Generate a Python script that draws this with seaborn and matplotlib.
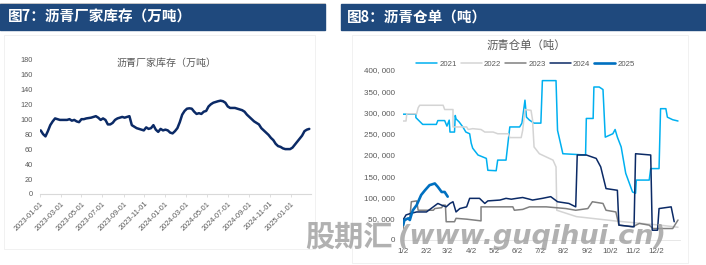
import numpy as np
import pandas as pd
import matplotlib
matplotlib.use("Agg")
import matplotlib.pyplot as plt
import matplotlib.dates as mdates
from matplotlib.patches import Rectangle
from matplotlib.ticker import FuncFormatter, MultipleLocator
import seaborn as sns

# ---------------- data ----------------
# Figure 7: asphalt plant inventory (10k tonnes), weekly
inv_start = "2023-01-02"
inv_values = [85, 80, 77, 84, 92, 97, 101, 100, 99, 99, 99, 99, 100, 98, 99, 97, 96, 100, 100, 101,
              101.5, 102, 103, 104, 102, 99, 101, 99, 93, 93, 95, 99, 101, 102, 103, 102, 103, 104, 92, 90,
              88, 87, 86, 85, 89, 87, 88, 92, 86, 83, 87, 85, 86, 85, 82, 81, 84, 88, 96, 106,
              111, 114, 114.5, 114, 110, 107, 108, 107, 110, 111, 117, 120, 122, 123, 124, 124.7, 124, 122, 117, 115,
              115, 115, 114, 113, 112, 110, 106, 103, 100, 97, 95, 93, 88, 85, 82, 79, 75, 72, 67, 64,
              63, 61, 60, 60, 60, 62, 66, 70, 74, 78, 84, 86, 87]
inv_ticks = ["2023-01-01", "2023-03-01", "2023-05-01", "2023-07-01", "2023-09-01", "2023-11-01",
             "2024-01-01", "2024-03-01", "2024-05-01", "2024-07-01", "2024-09-01", "2024-11-01",
             "2025-01-01"]

# Figure 8: asphalt warehouse receipts (tonnes), by day of year
days_2021 = [1, 18, 18, 27, 45, 47, 56, 59, 62, 63, 69, 70, 71, 75, 80, 84, 89, 91, 93, 100,
             111, 113, 124, 126, 137, 140, 142, 155, 158, 162, 164, 168, 174, 183, 185, 203, 205, 210, 212, 242,
             243, 252, 253, 260, 265, 268, 278, 281, 284, 289, 295, 304, 308, 309, 326, 328, 339, 341, 348, 350,
             357, 364]
vals_2021 = [296, 296, 288, 272, 272, 281, 281, 268, 282, 254, 254, 293, 285, 278, 266, 254, 250, 228, 216, 200,
             192, 164, 163, 188, 188, 235, 266, 266, 275, 329, 289, 282, 275, 275, 375, 375, 258, 219, 203, 200,
             286, 286, 360, 360, 354, 242, 250, 260, 242, 219, 157, 113, 110, 141, 141, 168, 168, 309, 309, 289,
             283, 280]
days_2022 = [1, 5, 6, 19, 21, 23, 54, 56, 67, 67, 85, 87, 93, 104, 109, 120, 126, 140, 142, 157,
             159, 162, 170, 172, 174, 181, 199, 203, 204, 230, 250, 280, 310, 340, 364]
vals_2022 = [280, 280, 297, 297, 311, 317, 317, 307, 307, 266, 266, 260, 262, 260, 254, 254, 250, 250, 241, 241,
             258, 307, 305, 283, 219, 203, 188, 172, 70, 55, 51, 45, 40, 35, 30]
days_2023 = [1, 3, 10, 12, 19, 21, 41, 43, 52, 54, 57, 58, 69, 71, 85, 104, 104, 146, 148, 159,
             168, 173, 190, 216, 229, 245, 251, 265, 269, 282, 286, 304, 313, 326, 331, 357, 364]
vals_2023 = [27, 47, 51, 90, 92, 70, 70, 74, 76, 82, 82, 43, 43, 51, 49, 45, 78, 78, 70, 72,
             78, 78, 78, 74, 70, 74, 90, 86, 70, 66, 35, 31, 39, 35, 27, 27, 47]
days_2024 = [1, 5, 12, 19, 32, 38, 47, 52, 58, 63, 67, 71, 76, 85, 89, 102, 109, 113, 129, 137,
             144, 151, 159, 168, 172, 185, 196, 205, 220, 229, 231, 243, 256, 262, 269, 284, 286, 306, 308, 328,
             330, 337, 339, 355, 359]
vals_2024 = [47, 59, 63, 66, 66, 74, 86, 82, 78, 86, 90, 66, 74, 78, 98, 98, 86, 92, 94, 98,
             96, 98, 100, 96, 94, 98, 102, 90, 86, 78, 200, 200, 192, 172, 121, 117, 35, 31, 203, 200,
             23, 23, 74, 78, 43]
days_2025 = [1, 3, 8, 10, 12, 14, 19, 23, 25, 30, 36, 43, 47, 52, 56, 60]
vals_2025 = [35, 47, 51, 47, 59, 70, 82, 98, 106, 117, 129, 133, 125, 113, 113, 102]

month_tick_days = [1, 32, 60, 91, 121, 152, 182, 213, 244, 274, 305, 335]
month_tick_labels = ["1/2", "2/2", "3/2", "4/2", "5/2", "6/2", "7/2", "8/2", "9/2", "10/2", "11/2", "12/2"]

series_years = ["2021", "2022", "2023", "2024", "2025"]
series_days = [days_2021, days_2022, days_2023, days_2024, days_2025]
series_vals = [vals_2021, vals_2022, vals_2023, vals_2024, vals_2025]
series_colors = ["#00B0F0", "#D4D4D4", "#808080", "#0B2A66", "#0070C0"]
series_widths = [1.1, 1.1, 1.1, 1.1, 1.9]

# ---------------- style ----------------
sns.set_theme(style="white")
plt.rcParams["font.family"] = ["Noto Sans CJK SC", "DejaVu Sans"]
TICK_FONT = ["Liberation Sans", "DejaVu Sans"]
GREY = "#595959"

W, H = 706, 265
fig = plt.figure(figsize=(W / 100, H / 100), dpi=100)


def fx(x):
    return x / W


def fy(y):
    return 1 - y / H


# header bars
fig.patches.append(Rectangle((0, fy(30)), fx(325), 26 / H, transform=fig.transFigure,
                             color="#1F497D", zorder=0))
fig.patches.append(Rectangle((fx(341), fy(30)), fx(W - 341), 26 / H, transform=fig.transFigure,
                             color="#1F497D", zorder=0))
fig.lines.append(plt.Line2D([0, fx(325)], [fy(2.5), fy(2.5)], transform=fig.transFigure,
                            color="#BFBFBF", lw=0.6))
fig.text(fx(8), fy(17), "图7：沥青厂家库存（万吨）", color="white", fontsize=10.5,
         weight="bold", va="center", ha="left")
fig.text(fx(347), fy(17), "图8：沥青仓单（吨）", color="white", fontsize=10.5,
         weight="bold", va="center", ha="left")

# faint panel frames
fig.patches.append(Rectangle((fx(4), fy(249)), fx(311), 214 / H, transform=fig.transFigure,
                             fill=False, ec="#EFEFEF", lw=0.6, zorder=0))
fig.patches.append(Rectangle((fx(352), fy(263)), fx(336), 228 / H, transform=fig.transFigure,
                             fill=False, ec="#EFEFEF", lw=0.6, zorder=0))

# ---------------- left chart ----------------
ax1 = fig.add_axes([fx(40), fy(194), fx(311 - 40), (194 - 59.3) / H])
inv_dates = pd.date_range(inv_start, periods=len(inv_values), freq="7D")
inv_df = pd.DataFrame({"date": inv_dates, "value": inv_values})
sns.lineplot(data=inv_df, x="date", y="value", ax=ax1, color="#0B2A66", lw=1.8)
ax1.set_xlim(pd.Timestamp("2022-12-31"), pd.Timestamp("2025-03-01"))
ax1.set_ylim(0, 180)
ax1.yaxis.set_major_locator(MultipleLocator(20))
ax1.set_xticks(pd.to_datetime(inv_ticks))
ax1.set_xticklabels(inv_ticks, rotation=45, ha="right", va="top", rotation_mode="anchor")
ax1.set_xlabel("")
ax1.set_ylabel("")
for s in ["top", "right", "left"]:
    ax1.spines[s].set_visible(False)
ax1.spines["bottom"].set_color("#D9D9D9")
ax1.spines["bottom"].set_linewidth(0.8)
ax1.tick_params(axis="x", length=2.5, width=0.6, color="#D9D9D9", pad=2, labelsize=5.3,
                labelcolor=GREY, bottom=True)
ax1.tick_params(axis="y", length=0, pad=5, labelsize=5.3, labelcolor=GREY)
for lab in ax1.get_xticklabels() + ax1.get_yticklabels():
    lab.set_family(TICK_FONT)
fig.text(fx(167), fy(63), "沥青厂家库存（万吨）", ha="center", va="center", color=GREY,
         fontsize=7.2, weight="light")

# ---------------- right chart ----------------
ax2 = fig.add_axes([fx(403), fy(240), fx(679.5 - 403), (240 - 70) / H])
rows = []
for yr, d, v in zip(series_years, series_days, series_vals):
    for di, vi in zip(d, v):
        rows.append({"year": yr, "day": di, "value": vi * 1000})
rec_df = pd.DataFrame(rows)
palette = dict(zip(series_years, series_colors))
sns.lineplot(data=rec_df, x="day", y="value", hue="year", palette=palette, estimator=None,
             sort=False, ax=ax2, legend=False)
for line, lw in zip(ax2.get_lines(), series_widths):
    line.set_linewidth(lw)
ax2.set_xlim(1, 366)
ax2.set_ylim(0, 400000)
ax2.yaxis.set_major_locator(MultipleLocator(50000))
ax2.yaxis.set_major_formatter(FuncFormatter(lambda v, p: f"{int(v):,}".replace(",", ", ")))
ax2.set_xticks(month_tick_days)
ax2.set_xticklabels(month_tick_labels)
ax2.set_xlabel("")
ax2.set_ylabel("")
for s in ["top", "right", "left"]:
    ax2.spines[s].set_visible(False)
ax2.spines["bottom"].set_color("#E3E3E3")
ax2.spines["bottom"].set_linewidth(0.6)
ax2.tick_params(axis="x", length=0, pad=6, labelsize=5.8, labelcolor=GREY)
ax2.tick_params(axis="y", length=0, pad=6, labelsize=5.8, labelcolor=GREY)
for lab in ax2.get_xticklabels() + ax2.get_yticklabels():
    lab.set_family(TICK_FONT)

handles = [plt.Line2D([], [], color=c, lw=w) for c, w in zip(series_colors, series_widths)]
leg = ax2.legend(handles, series_years, loc="center", bbox_to_anchor=(fx(525.5), fy(64)),
                 bbox_transform=fig.transFigure, ncol=5, frameon=False, fontsize=5.6,
                 handlelength=2.7, handletextpad=0.3, columnspacing=0.5, borderpad=0)
for t in leg.get_texts():
    t.set_color(GREY)
    t.set_family(TICK_FONT)
fig.text(fx(526), fy(45), "沥青仓单（吨）", ha="center", va="center", color=GREY,
         fontsize=8.2, weight="light")

# watermark
fig.text(fx(305), fy(237), "股期汇", fontsize=21, color="#9E9E9E", weight="heavy",
         alpha=0.8, va="center", ha="left", zorder=10)
fig.text(fx(398), fy(237), "(www.guqihui.cn)", fontsize=19.5, color="#9E9E9E", weight="bold",
         style="italic", family=["DejaVu Sans"], alpha=0.8, va="center", ha="left", zorder=10)

fig.savefig("out.png", dpi=100)
